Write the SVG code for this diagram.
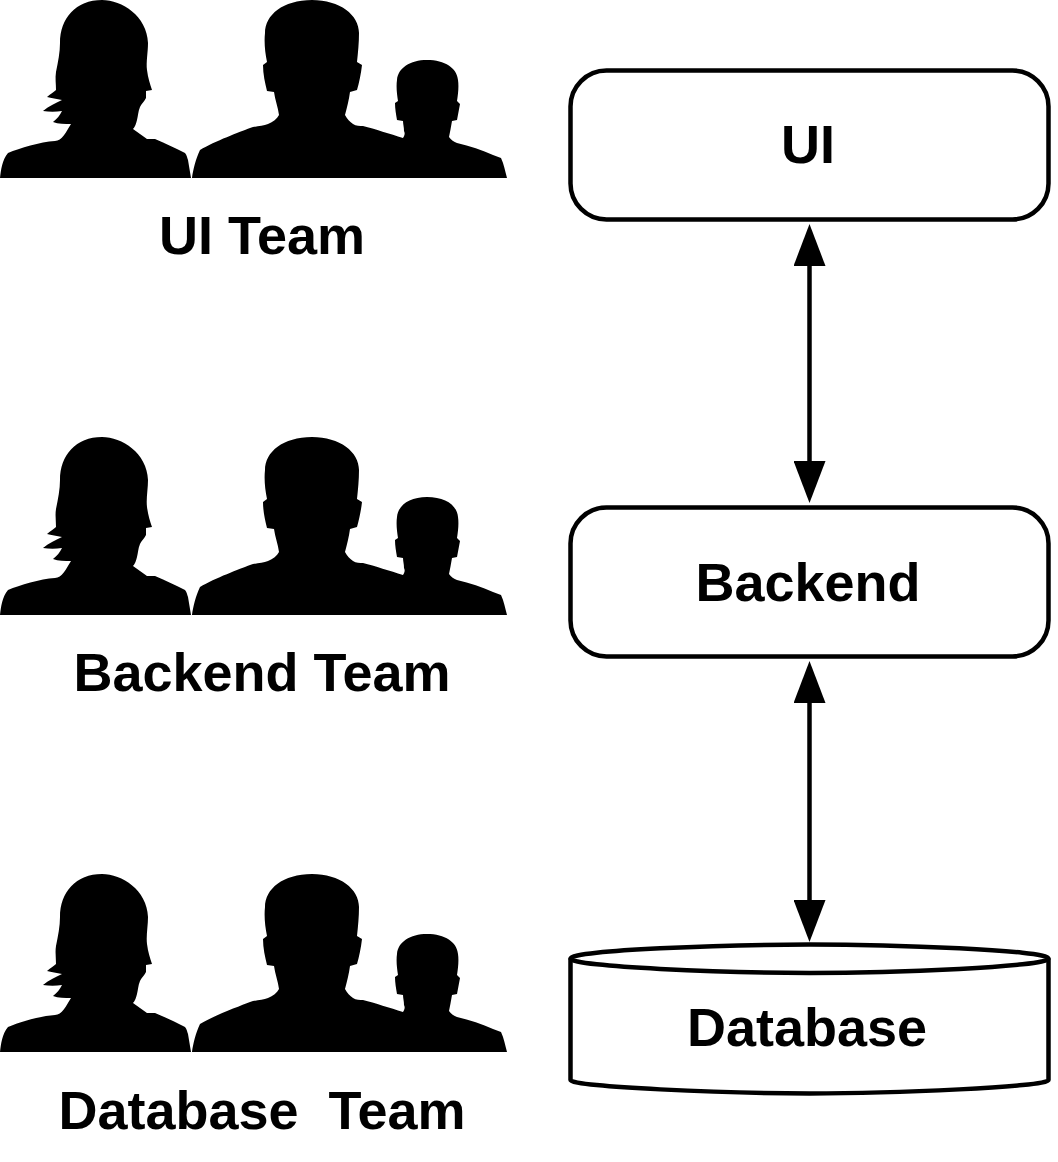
<svg xmlns="http://www.w3.org/2000/svg" width="1058" height="1162" viewBox="0 0 1058 1162">
<style>
.box{fill:#fff;stroke:#000;stroke-width:4.500}
.t{font-family:"Liberation Sans",Arial,sans-serif;font-weight:700;font-size:54px;fill:#000;text-anchor:middle}
.c{fill:none;stroke:#000;stroke-width:4.500;marker-start:url(#head);marker-end:url(#head)}
</style>
<defs>
<marker id="head" markerUnits="userSpaceOnUse" markerWidth="42" markerHeight="32" refX="20" refY="16" orient="auto-start-reverse"><path d="M0 0L42 16L0 32Z" fill="#000"/></marker>
<g id="people">
<path d="M0 178C1 170 2 160 8 153C20 148 40 142 55 141C62 141 66 132 71 124C65 124 58 124 53 122C57 119 60 115 62 111C56 112 49 112 43 111C49 106 56 103 62 100C57 99 51 98 47 97C50 94 54 92 56 90C56 84 55 78 56 72C58 62 60 52 60 43C60 18 76 0 102 0C122 0 147 16 148 43C148 52 146 62 147 70C148 78 150 84 152 90L146 91L146 98C144 102 141 104 140 107C138 112 138 116 137 120C136 124 135 127 133 129L147 139L155 139C165 143 175 148 185 153C187 155 187 158 188 160C189 166 190 172 191 178Z"/>
<path d="M192 178C193 170 196 158 200 150C215 141 240 132 250 128C256 126 263 126 268 124C273 122 277 119 279 115C278 107 275 100 274 92L267 91C265 83 263 74 263 65L267 62C265 52 264 42 265 33C265 15 283 0 312 0C340 0 359 15 359 33C359 43 358 52 357 62L362 65C361 74 359 83 357 90L350 92C349 100 347 107 345 115C347 119 350 122 353 124C356 126 360 126 363 126C375 129 390 134 403 138C405 135 405 133 404 131C404 127 403 124 403 121L397 120C396 114 395 109 395 103L398 101C397 94 396 87 397 80C398 68 410 60 427 60C445 60 457 68 458 80C459 87 458 94 457 101L460 104C459 109 458 115 457 120L452 121C451 127 450 132 449 137C451 140 454 142 457 143C470 146 482 150 493 155L501 158C504 164 505 171 507 178Z"/>
</g>
</defs>
<g id="connectors">
<line class="c" x1="809.500" y1="246" x2="809.500" y2="481"/>
<line class="c" x1="809.500" y1="683" x2="809.500" y2="920"/>
</g>
<g id="team-ui"><use href="#people"/><text class="t" x="262" y="254">UI Team</text></g>
<g id="team-backend"><use href="#people" y="437"/><text class="t" x="262" y="691">Backend Team</text></g>
<g id="team-database"><use href="#people" y="874"/><text class="t" x="262" y="1129" xml:space="preserve">Database  Team</text></g>
<g id="ui"><rect class="box" x="570.500" y="70.500" width="478" height="149" rx="36"/><text class="t" x="808" y="163">UI</text></g>
<g id="backend"><rect class="box" x="570.500" y="507.500" width="478" height="149" rx="36"/><text class="t" x="808" y="601">Backend</text></g>
<g id="database"><path class="box" d="M570.500 958.500C570.500 950 730 944.500 809.500 944.500C890 944.500 1048.500 950 1048.500 958.500V1080C1048.500 1087 890 1093.500 809.500 1093.500C730 1093.500 570.500 1087 570.500 1080Z"/><path class="box" style="fill:none" d="M570.500 958.500C570.500 967 730 973 809.500 973C890 973 1048.500 967 1048.500 958.500"/><text class="t" x="807" y="1046">Database</text></g>
</svg>
